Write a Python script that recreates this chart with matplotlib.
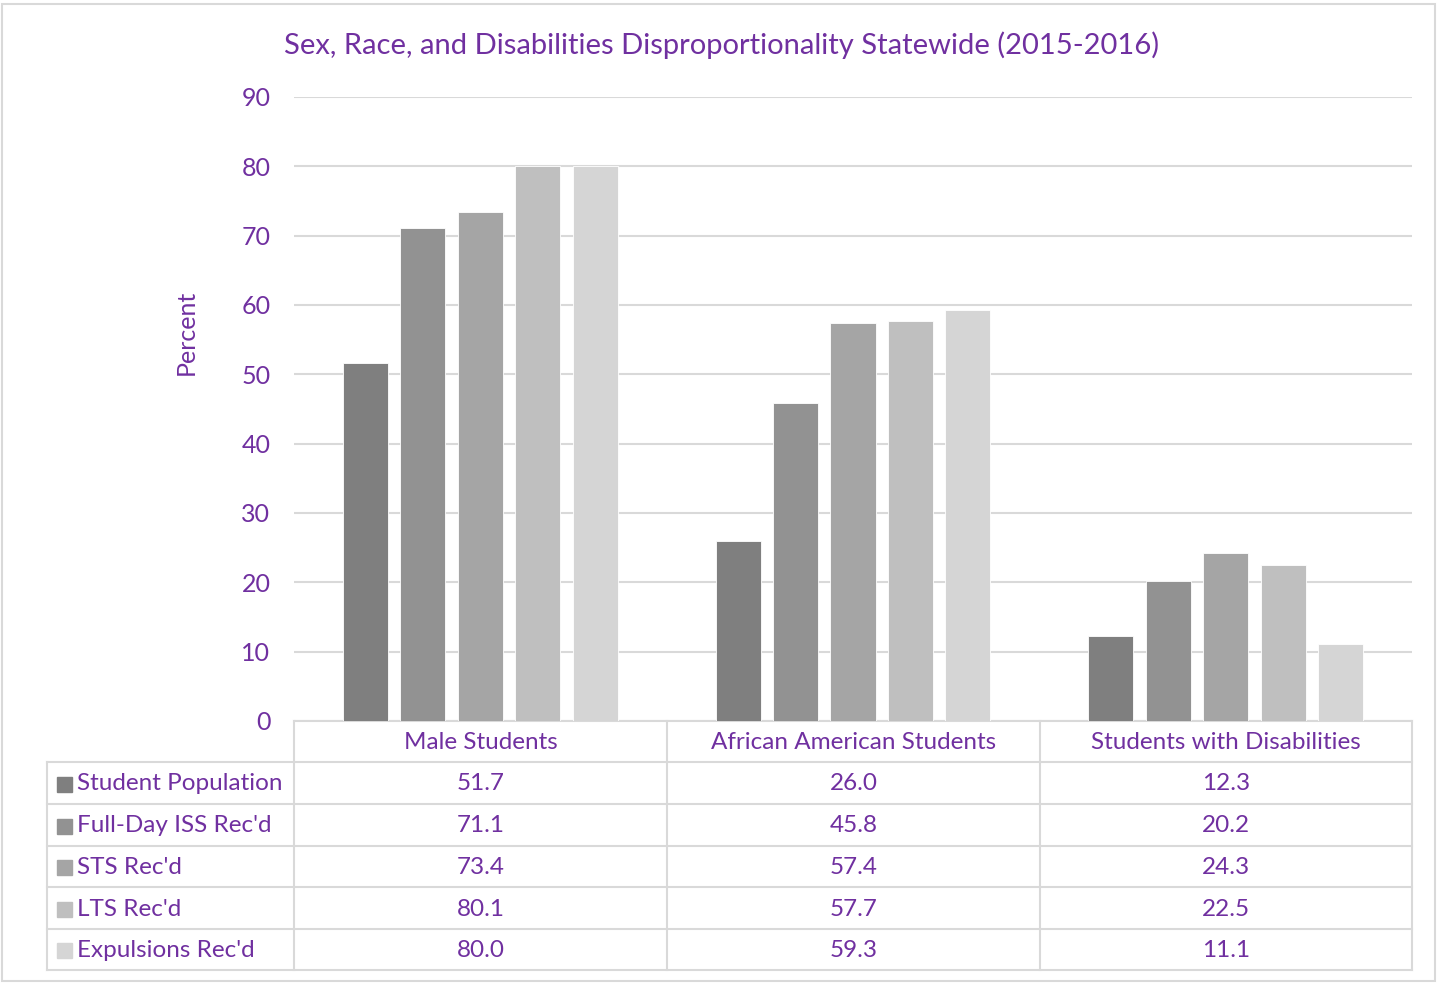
import matplotlib.pyplot as plt
from matplotlib.patches import Rectangle
from matplotlib.lines import Line2D

categories = ["Male Students", "African American Students", "Students with Disabilities"]
series_names = ["Student Population", "Full-Day ISS Rec'd", "STS Rec'd", "LTS Rec'd", "Expulsions Rec'd"]
student_population = [51.7, 26.0, 12.3]
full_day_iss = [71.1, 45.8, 20.2]
sts = [73.4, 57.4, 24.3]
lts = [80.1, 57.7, 22.5]
expulsions = [80.0, 59.3, 11.1]
yticks = [0, 10, 20, 30, 40, 50, 60, 70, 80, 90]

series_values = [student_population, full_day_iss, sts, lts, expulsions]
colors = ["#7f7f7f", "#929292", "#a5a5a5", "#bfbfbf", "#d5d5d5"]
purple = "#7030a0"
grid_c = "#d9d9d9"

plt.rcParams["font.family"] = ["Lato", "DejaVu Sans"]

W, H = 1437, 983
fig = plt.figure(figsize=(W / 100, H / 100), dpi=100)


def fx(px):
    return px / W


def fy(py):
    return 1 - py / H


# plot area in pixel coords
left, right, top, bottom = 294, 1412, 97, 721
ax = fig.add_axes([fx(left), fy(bottom), fx(right - left), (bottom - top) / H])

width = 0.121
step = 0.154
for i, (name, vals) in enumerate(zip(series_names, series_values)):
    xs = [c + (i - 2) * step for c in range(len(categories))]
    ax.bar(xs, vals, width=width, color=colors[i], edgecolor="white", linewidth=0.6, zorder=3)

ax.set_xlim(-0.5, 2.5)
ax.set_ylim(0, 90)
ax.set_yticks(yticks)
ax.set_xticks([])
ax.grid(axis="y", color=grid_c, linewidth=1.5, zorder=0)
ax.tick_params(axis="y", length=0, pad=17, labelsize=18, labelcolor=purple)
for s in ["top", "right", "left"]:
    ax.spines[s].set_visible(False)
ax.spines["bottom"].set_color(grid_c)
ax.spines["bottom"].set_linewidth(1.5)

fig.text(fx(186), fy(332), "Percent", rotation=90, ha="center", va="center", color=purple, fontsize=18)

fig.text(0.5 * (fx(283) + fx(1160)), fy(45), "Sex, Race, and Disabilities Disproportionality Statewide (2015-2016)",
         ha="center", va="center", color=purple, fontsize=21)

# data table
col_edges = [294, 667, 1040, 1412]
row_edges = [721, 762, 804, 846, 887, 929, 970]
lab_left = 47
tsize = 17.5


def hline(x0, x1, y):
    fig.add_artist(Line2D([fx(x0), fx(x1)], [fy(y), fy(y)], color=grid_c, linewidth=1.5))


def vline(x, y0, y1):
    fig.add_artist(Line2D([fx(x), fx(x)], [fy(y0), fy(y1)], color=grid_c, linewidth=1.5))


for y in row_edges[1:]:
    hline(lab_left, col_edges[-1], y)
for x in col_edges:
    vline(x, row_edges[0], row_edges[-1])
vline(lab_left, row_edges[1], row_edges[-1])

for j, cat in enumerate(categories):
    cx = 0.5 * (col_edges[j] + col_edges[j + 1])
    fig.text(fx(cx), fy(0.5 * (row_edges[0] + row_edges[1]) + 1), cat, ha="center", va="center",
             color=purple, fontsize=tsize)

for i, (name, vals) in enumerate(zip(series_names, series_values)):
    cy = 0.5 * (row_edges[i + 1] + row_edges[i + 2]) + 1
    fig.add_artist(Rectangle((fx(57), fy(cy + 7.5)), fx(15), 15 / H, color=colors[i]))
    fig.text(fx(77), fy(cy), name, ha="left", va="center", color=purple, fontsize=tsize)
    for j, v in enumerate(vals):
        cx = 0.5 * (col_edges[j] + col_edges[j + 1])
        fig.text(fx(cx), fy(cy), f"{v:.1f}", ha="center", va="center", color=purple, fontsize=tsize)

# chart border
fig.add_artist(Rectangle((fx(2), fy(981)), fx(1433), 977 / H, fill=False, edgecolor=grid_c, linewidth=1.5))

fig.savefig("out.png", dpi=100)
